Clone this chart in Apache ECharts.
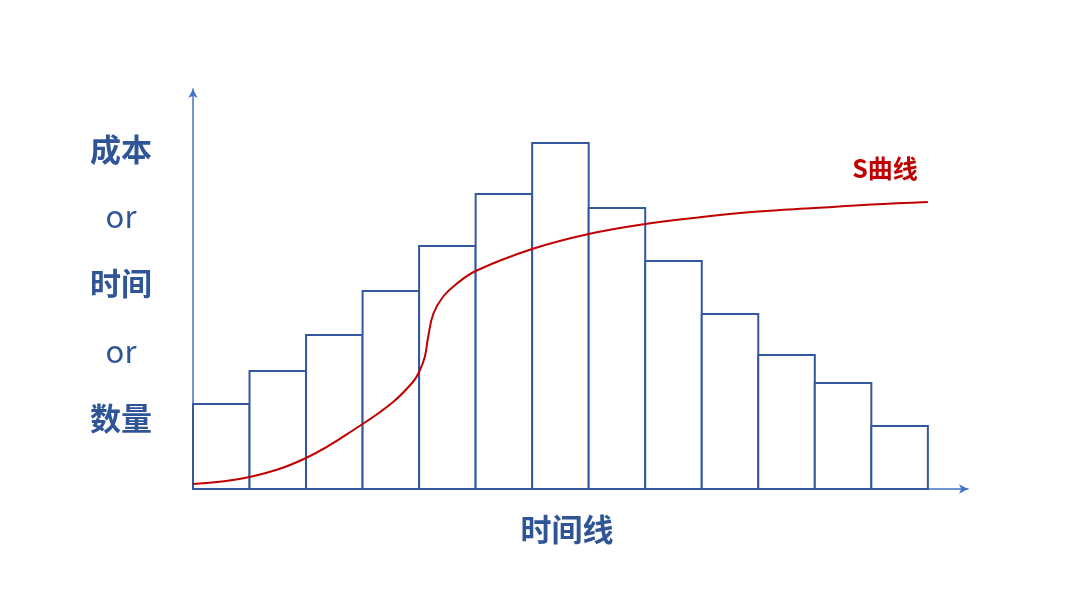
<!DOCTYPE html>
<html>
<head>
<meta charset="utf-8">
<style>
  html, body { margin: 0; padding: 0; background: #fff; }
  #chart { width: 1080px; height: 608px; }
</style>
<script src="https://cdn.jsdelivr.net/npm/echarts@6/dist/echarts.min.js"></script>
</head>
<body>
<div id="chart"></div>
<script>
// 柱子高度（时间段 0..12）
var barValues = [85, 118, 154, 198, 243, 295, 346, 281, 228, 175, 134, 106, 63];
// S曲线上的点 [x, y]
var sCurveX = [0, 1, 2, 3, 3.54, 3.89, 4.0, 4.1, 4.16, 4.25, 4.42, 4.66, 5, 6, 7, 8, 9, 10, 11, 12, 13];
var sCurveY = [5, 12, 31, 65, 87, 107, 117, 132, 152, 175, 192, 205, 218, 240, 255, 265, 272, 277.5, 281, 284.5, 287];
var yLabels = ['成本', 'or', '时间', 'or', '数量'];

var blue = '#2F5597';
var red = '#C00000';
var font = '"Noto Sans CJK SC", "Noto Sans", sans-serif';

var barData = barValues.map(function (v, i) { return [i, v]; });
var curveData = sCurveX.map(function (x, i) { return [x, sCurveY[i]]; });

function centeredText(text, cx, cy, color, fontStr) {
  return {
    type: 'text',
    x: cx, y: cy,
    style: {
      text: text,
      textAlign: 'center',
      textVerticalAlign: 'middle',
      fill: color,
      font: fontStr
    }
  };
}

var labelGraphics = yLabels.map(function (t, i) {
  return centeredText(t, 121, 149 + i * 67.3, blue,
    (t === 'or' ? 'normal 31px ' : 'bold 31px ') + font);
});

var myChart = echarts.init(document.getElementById('chart'));
myChart.setOption({
  backgroundColor: '#fff',
  animation: false,
  grid: { left: 193, right: 112, top: 89, bottom: 119 },
  xAxis: {
    type: 'value',
    min: 0,
    max: 13.71,
    axisLine: {
      show: true,
      symbol: ['none', 'arrow'],
      symbolSize: [7, 9],
      lineStyle: { color: '#4472C4', width: 1.5 }
    },
    axisTick: { show: false },
    axisLabel: { show: false },
    splitLine: { show: false }
  },
  yAxis: {
    type: 'value',
    min: 0,
    max: 400,
    axisLine: {
      show: true,
      symbol: ['none', 'arrow'],
      symbolSize: [7, 9],
      lineStyle: { color: '#4472C4', width: 1.5 }
    },
    axisTick: { show: false },
    axisLabel: { show: false },
    splitLine: { show: false }
  },
  graphic: labelGraphics.concat([
    centeredText('时间线', 567, 529, blue, 'bold 31px ' + font),
    centeredText('S曲线', 885, 168, red, 'bold 25px ' + font)
  ]),
  series: [
    {
      type: 'custom',
      data: barData,
      renderItem: function (params, api) {
        var p0 = api.coord([api.value(0), api.value(1)]);
        var p1 = api.coord([api.value(0) + 1, 0]);
        return {
          type: 'rect',
          shape: { x: p0[0], y: p0[1], width: p1[0] - p0[0], height: p1[1] - p0[1] },
          style: { fill: '#fff', stroke: '#3458A0', lineWidth: 2 }
        };
      },
      z: 2
    },
    {
      type: 'line',
      data: curveData,
      smooth: 0.4,
      showSymbol: false,
      lineStyle: { color: red, width: 2 },
      z: 3
    }
  ]
});
</script>
</body>
</html>
